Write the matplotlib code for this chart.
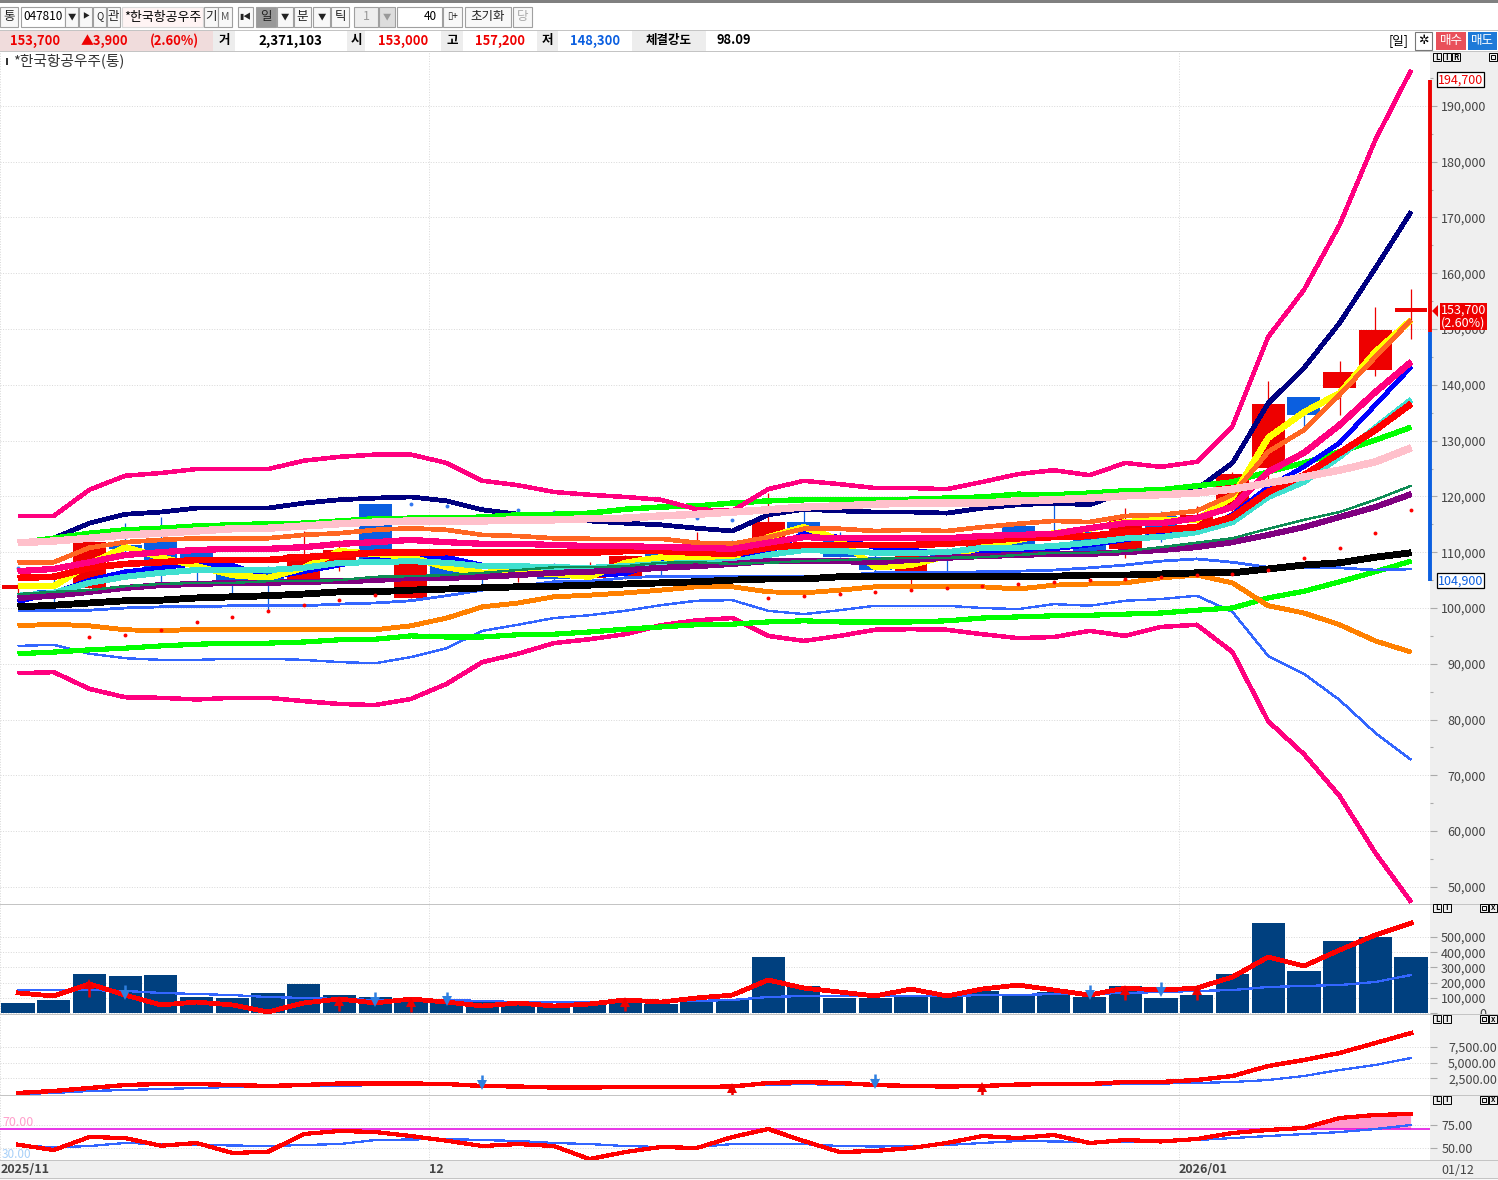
"""Daily candle chart with moving averages, bands, volume and two indicator panes."""

import matplotlib

matplotlib.use("Agg")
import matplotlib.pyplot as plt
import numpy as np
from matplotlib.patches import Polygon, Rectangle

plt.rcParams["font.family"] = ["Noto Sans CJK KR", "DejaVu Sans"]

W, H = 1498, 1180

# prices in thousand won
opens = [103.4, 103.2, 103.6, 111.3, 111.8, 109.9, 106.3, 106.5, 105.2, 107.7,
         118.6, 101.8, 107.7, 106.3, 105.9, 107.7, 105.4, 105.7, 109.7, 110.0,
         109.9, 111.3, 115.4, 112.2, 109.1, 106.5, 109.5, 110.4, 114.7, 113.6,
         113.6, 110.6, 116.5, 115.2, 117.6, 125.1, 137.8, 139.4, 142.7, 153.0]
closes = [104.1, 102.9, 111.8, 110.6, 107.2, 107.7, 104.5, 105.0, 109.7, 110.4,
          108.8, 107.9, 105.6, 105.6, 106.8, 105.2, 106.8, 109.3, 109.1, 111.3,
          109.0, 115.4, 113.4, 109.1, 106.8, 109.5, 108.6, 111.3, 110.0, 112.7,
          110.2, 116.0, 112.7, 116.7, 124.0, 136.6, 134.6, 142.3, 149.8, 153.7]
highs = [104.5, 106.3, 111.8, 115.2, 116.3, 109.9, 106.3, 107.5, 113.8, 112.2,
         118.6, 107.9, 107.7, 106.8, 106.8, 108.1, 108.2, 109.5, 109.7, 113.6,
         112.2, 120.6, 117.4, 113.6, 109.5, 109.5, 110.8, 111.3, 114.7, 118.6,
         113.6, 117.9, 117.4, 118.3, 124.4, 140.7, 137.8, 144.3, 154.0, 157.2]
lows = [102.7, 101.1, 103.6, 109.5, 104.3, 104.8, 102.7, 99.6, 105.2, 106.6,
        108.8, 101.8, 105.6, 103.8, 104.7, 104.5, 104.8, 105.2, 105.9, 110.0,
        108.6, 111.3, 113.4, 109.1, 105.9, 104.1, 105.9, 110.4, 110.0, 112.7,
        110.2, 109.0, 111.8, 115.2, 117.0, 122.9, 132.4, 134.6, 141.6, 148.3]

band_pink_up = [116.5, 116.5, 121.2, 123.7, 124.2, 124.9, 124.9, 124.9, 126.4, 127.1,
                127.5, 127.5, 126.0, 122.8, 122.0, 120.8, 120.3, 119.9, 119.4, 117.7,
                117.4, 121.3, 122.8, 122.2, 121.5, 121.5, 121.3, 122.6, 124.0, 124.7,
                123.8, 126.0, 125.3, 126.2, 132.6, 148.6, 157.0, 168.7, 183.9, 196.4]
band_navy_up = [111.7, 112.5, 115.2, 116.8, 117.2, 117.9, 117.9, 117.9, 118.8, 119.4,
                119.7, 119.9, 119.2, 117.6, 116.8, 116.3, 115.6, 115.2, 114.9, 114.3,
                113.8, 116.7, 117.7, 117.4, 117.2, 117.2, 117.0, 117.9, 118.5, 118.8,
                118.5, 120.8, 121.0, 121.3, 126.0, 136.7, 143.0, 151.1, 160.9, 171.0]
ma_green = [111.7, 112.5, 113.4, 114.0, 114.3, 114.7, 114.9, 115.1, 115.2, 115.6,
            116.0, 116.1, 116.1, 116.3, 116.7, 116.8, 117.0, 117.7, 118.1, 118.3,
            118.8, 119.2, 119.4, 119.4, 119.4, 119.5, 119.7, 119.9, 120.4, 120.3,
            120.6, 121.0, 121.2, 121.9, 122.6, 124.4, 126.0, 128.0, 130.1, 132.4]
ma_lightpink = [111.7, 112.0, 112.5, 113.1, 113.4, 113.8, 114.2, 114.3, 114.7, 115.1,
                115.4, 115.6, 115.6, 115.6, 115.8, 115.8, 116.0, 116.1, 116.5, 116.8,
                117.2, 117.6, 118.1, 118.3, 118.6, 118.8, 118.8, 118.8, 119.2, 119.4,
                119.7, 120.1, 120.3, 120.6, 121.3, 122.4, 123.5, 124.7, 126.2, 128.7]
ma_darkorange = [108.1, 108.2, 110.8, 111.8, 112.2, 112.5, 112.5, 112.5, 113.1, 113.4,
                 114.0, 114.3, 114.0, 113.1, 112.9, 112.5, 112.4, 112.4, 112.4, 111.7,
                 111.5, 112.7, 114.2, 114.2, 113.8, 114.0, 113.8, 114.5, 115.1, 115.6,
                 115.4, 116.5, 116.7, 117.4, 120.3, 128.0, 131.9, 138.2, 145.0, 151.6]
ma_deeppink = [106.6, 107.0, 108.2, 109.5, 110.0, 110.4, 110.6, 110.6, 110.9, 111.5,
               111.8, 112.2, 111.8, 111.5, 111.5, 111.3, 111.1, 111.1, 110.9, 110.8,
               110.6, 111.7, 112.7, 112.5, 112.5, 112.5, 112.5, 112.9, 113.1, 113.3,
               114.3, 115.2, 115.2, 116.1, 118.1, 124.4, 127.8, 132.8, 138.7, 144.1]
ma_red = [105.4, 105.6, 107.2, 107.9, 108.2, 108.6, 108.6, 108.6, 109.1, 109.5,
          109.9, 109.9, 110.0, 109.9, 109.9, 109.9, 109.9, 110.2, 110.2, 109.9,
          109.7, 110.8, 111.3, 111.3, 111.3, 111.3, 111.5, 112.0, 112.5, 112.7,
          112.9, 113.6, 114.0, 114.5, 116.3, 120.8, 123.8, 127.8, 131.9, 136.6]
ma_yellow = [103.9, 103.9, 107.9, 110.9, 109.1, 107.5, 105.9, 105.4, 107.2, 110.2,
             109.7, 109.1, 107.3, 106.3, 106.5, 106.1, 105.6, 108.1, 109.1, 108.8,
             109.0, 112.7, 114.5, 112.2, 107.3, 107.7, 109.3, 110.9, 112.2, 113.4,
             114.2, 115.4, 115.8, 115.8, 119.9, 130.5, 135.1, 138.5, 145.9, 151.6]
ma_blue = [101.1, 102.7, 105.0, 106.5, 107.2, 107.9, 107.7, 105.4, 106.5, 107.7,
           108.8, 109.1, 109.1, 107.7, 106.8, 106.3, 105.9, 106.1, 108.2, 108.6,
           108.8, 109.9, 113.4, 112.7, 110.8, 110.4, 109.7, 109.9, 110.2, 110.6,
           111.3, 112.2, 113.1, 114.0, 116.7, 121.7, 125.3, 129.6, 136.4, 143.2]
ma_turquoise = [102.2, 102.7, 104.5, 105.6, 106.3, 106.8, 106.8, 106.8, 107.2, 108.1,
                108.2, 108.4, 108.1, 107.5, 107.5, 107.3, 107.2, 107.5, 107.9, 108.1,
                108.2, 109.5, 110.4, 110.2, 109.9, 109.9, 110.0, 110.8, 110.8, 111.1,
                111.7, 112.5, 112.7, 113.6, 115.4, 119.9, 122.6, 127.1, 132.3, 137.3]
ma_seagreen = [102.5, 102.9, 103.2, 103.9, 104.3, 104.5, 104.5, 104.8, 104.8, 105.0,
               105.6, 105.7, 105.9, 106.3, 106.8, 107.3, 107.3, 107.5, 108.1, 108.2,
               107.9, 108.1, 108.4, 108.6, 108.8, 109.0, 109.0, 109.1, 109.5, 109.9,
               109.9, 110.2, 110.9, 111.7, 112.5, 114.2, 115.8, 117.2, 119.4, 121.9]
ma_purple = [101.8, 102.2, 102.9, 103.6, 104.1, 104.3, 104.5, 104.5, 104.7, 104.8,
             105.0, 105.4, 105.4, 105.6, 105.9, 106.3, 106.5, 106.8, 107.2, 107.5,
             107.9, 108.4, 108.4, 108.4, 108.2, 108.6, 109.0, 109.3, 109.5, 109.7,
             109.7, 110.0, 110.4, 110.9, 111.8, 113.1, 114.5, 116.3, 118.1, 120.4]
ma_black = [100.2, 100.5, 100.9, 101.3, 101.4, 101.8, 102.0, 102.2, 102.5, 102.9,
            102.9, 103.2, 103.4, 103.6, 103.8, 103.9, 104.1, 104.3, 104.5, 104.7,
            105.0, 105.2, 105.2, 105.6, 105.6, 105.6, 105.6, 105.7, 105.7, 105.7,
            105.9, 105.9, 106.1, 106.3, 106.3, 107.0, 107.7, 108.1, 109.1, 109.9]
ma_thinblue = [99.6, 99.6, 99.6, 100.0, 100.2, 100.2, 100.4, 100.4, 100.4, 100.7,
               100.9, 101.3, 102.2, 103.2, 103.9, 104.7, 104.8, 105.4, 105.7, 105.7,
               105.7, 105.6, 105.6, 105.8, 106.3, 106.3, 106.3, 106.5, 106.6, 106.8,
               107.2, 107.7, 108.4, 108.8, 108.2, 107.3, 107.3, 107.2, 106.8, 107.0]
band_orange_low = [96.8, 97.1, 96.8, 96.1, 95.9, 96.2, 96.2, 96.2, 96.2, 96.1,
                   96.1, 96.8, 98.2, 100.2, 100.9, 102.0, 102.3, 102.7, 103.2, 103.8,
                   103.8, 102.9, 102.7, 103.2, 103.8, 103.8, 103.8, 103.8, 103.4, 104.1,
                   104.3, 104.5, 105.4, 105.9, 104.5, 100.4, 99.1, 97.0, 94.1, 92.1]
ma_green_low = [91.8, 92.1, 92.5, 92.8, 93.2, 93.5, 93.7, 93.7, 93.9, 94.3,
                94.4, 95.0, 94.8, 94.8, 95.2, 95.3, 95.7, 96.2, 96.6, 97.0,
                97.1, 97.5, 97.7, 97.5, 97.5, 97.5, 97.7, 98.2, 98.4, 98.6,
                98.7, 98.9, 99.1, 99.6, 100.0, 101.8, 103.0, 104.7, 106.5, 108.4]
band_blue_low = [93.2, 93.4, 91.8, 91.0, 90.7, 90.7, 90.9, 90.9, 90.7, 90.3,
                 90.1, 91.2, 92.8, 95.9, 97.0, 98.2, 98.7, 99.5, 100.5, 101.3,
                 101.4, 99.5, 98.9, 99.6, 100.4, 100.4, 100.4, 100.0, 99.8, 100.7,
                 100.4, 101.3, 101.6, 102.2, 99.3, 91.4, 88.2, 83.5, 77.6, 72.8]
band_pink_low = [88.3, 88.5, 85.5, 84.0, 83.9, 83.6, 83.9, 83.9, 83.3, 82.8,
                 82.6, 83.7, 86.4, 90.3, 91.8, 93.7, 94.4, 95.3, 96.9, 97.8,
                 98.2, 95.0, 94.1, 95.0, 96.1, 96.2, 96.1, 95.3, 94.6, 94.8,
                 95.9, 95.0, 96.6, 97.0, 92.1, 79.7, 73.8, 66.3, 56.1, 47.3]

# parabolic-style dots: (bar index, price in thousand won)
sar_red_idx = [2, 3, 4, 5, 6, 7, 8, 9, 10, 21, 22, 23, 24, 25, 26, 27, 28, 29, 30, 31, 32, 33, 34, 35, 36, 37, 38, 39]
sar_red = [94.8, 95.2, 96.1, 97.4, 98.4, 99.5, 100.5, 101.4, 102.3, 101.8, 102.2, 102.5, 102.9, 103.2, 103.6, 103.9,
           104.3, 104.7, 105.0, 105.2, 105.6, 105.9, 106.1, 106.8, 109.0, 110.8, 113.4, 117.6]
sar_blue_idx = [0, 11, 12, 13, 14, 15, 16, 17, 19, 20]
sar_blue = [107.2, 118.6, 118.3, 117.9, 117.6, 117.2, 116.8, 116.5, 116.1, 115.8]

# volume in thousand shares
volume = [66, 85, 256, 243, 250, 105, 100, 131, 190, 118,
          105, 92, 81, 74, 68, 59, 64, 78, 60, 72,
          90, 368, 178, 98, 98, 105, 112, 145, 118, 138,
          105, 178, 98, 118, 256, 592, 276, 474, 500, 368]
vol_red = [132, 112, 191, 118, 53, 72, 53, 7, 66, 92,
           66, 92, 72, 46, 66, 46, 59, 86, 72, 99,
           118, 217, 164, 138, 112, 158, 112, 158, 184, 151,
           118, 164, 151, 164, 237, 368, 309, 414, 513, 592]
vol_blue = [151, 151, 151, 145, 132, 125, 118, 105, 99, 92,
            86, 86, 86, 79, 72, 72, 72, 72, 79, 79,
            86, 105, 112, 112, 112, 112, 112, 118, 118, 125,
            125, 132, 138, 145, 151, 171, 178, 184, 204, 250]
vol_up_idx = [2, 9, 11, 17, 31, 33]
vol_up_base = [105, 15, 8, 13, 86, 86]
vol_up_tip = [190, 79, 72, 72, 151, 151]
vol_down_idx = [3, 10, 12, 30, 32]
vol_down_base = [184, 138, 138, 184, 204]
vol_down_tip = [118, 74, 79, 118, 138]

# third pane
osc_red = [159, 478, 955, 1433, 1592, 1592, 1433, 1274, 1433, 1672,
           1672, 1672, 1592, 1274, 1194, 1035, 1035, 1114, 1114, 1114,
           1194, 1751, 1910, 1751, 1433, 1274, 1194, 1274, 1512, 1592,
           1592, 1910, 1910, 2229, 2866, 4458, 5413, 6527, 8119, 9711]
osc_blue = [0, 159, 478, 637, 796, 955, 1114, 1114, 1274, 1274,
            1433, 1433, 1433, 1274, 1274, 1274, 1274, 1274, 1274, 1274,
            1274, 1433, 1592, 1433, 1353, 1274, 1274, 1274, 1353, 1433,
            1433, 1592, 1672, 1751, 1910, 2229, 2866, 3821, 4617, 5731]
osc_up_idx = [20, 27]
osc_up_base = [-160, -160]
osc_up_tip = [955, 1114]
osc_down_idx = [13, 24]
osc_down_base = [3025, 3184]
osc_down_tip = [1433, 1592]

# bottom pane
rsi_red = [53.8, 48.2, 61.9, 60.8, 52.7, 55.6, 45.1, 46.4, 65.1, 68.2,
           67.2, 62.9, 58.0, 52.4, 54.5, 52.4, 38.7, 46.1, 51.4, 50.3,
           61.9, 70.3, 57.7, 46.1, 47.2, 50.3, 55.6, 62.9, 60.8, 64.0,
           55.6, 58.7, 57.2, 59.8, 66.1, 69.3, 71.4, 81.9, 85.1, 86.1]
rsi_blue = [53.5, 50.9, 52.4, 55.6, 54.5, 53.5, 53.0, 52.4, 53.5, 54.5,
            58.7, 59.3, 59.8, 58.7, 57.7, 55.6, 54.5, 52.4, 51.4, 51.4,
            54.5, 54.5, 54.5, 52.4, 51.9, 52.4, 53.5, 55.6, 57.7, 57.2,
            56.6, 56.6, 56.6, 58.7, 60.8, 62.9, 65.0, 67.1, 70.3, 74.5]

month_ticks = [-0.5, 11.5, 32.5]
month_labels = ["2025/11", "12", "2026/01"]

price_ticks = list(range(50000, 200000, 10000))
vol_ticks = [0, 100000, 200000, 300000, 400000, 500000]
osc_ticks = [2500, 5000, 7500]
rsi_ticks = [50, 75]

range_high, range_split, range_low = 194700, 149500, 104900
last_price = 153700

RED = "#EE0000"
CANDLE_BLUE = "#0B5FE0"
LINE_BLUE = "#3366FF"
PINK = "#FF007F"
GREY_TXT = "#444444"

fig = plt.figure(figsize=(W / 100, H / 100), dpi=100, facecolor="white")


def box(x0, y0, x1, y1, fc="white", ec="none", z=5, lw=0.8):
    fig.add_artist(Rectangle((x0 / W, 1 - y1 / H), (x1 - x0) / W, (y1 - y0) / H, transform=fig.transFigure,
                             facecolor=fc, edgecolor=ec, linewidth=lw, zorder=z))


def label(x, y, s, color="black", size=9, ha="center", weight="normal", z=6):
    fig.text(x / W, 1 - y / H, s, color=color, fontsize=size, ha=ha, va="center", fontweight=weight, zorder=z)


def button(x0, x1, s="", fc="#F8F8F8", color="#222222", y0=7, y1=27, size=9):
    box(x0, y0, x1, y1, fc=fc, ec="#A0A0A0")
    if s:
        label((x0 + x1) / 2, (y0 + y1) / 2 - 0.5, s, color=color, size=size)


def pane(top, bottom, ylim, ticks, fmt, label_right, grid=True):
    ax = fig.add_axes([0, 1 - bottom / H, 1430 / W, (bottom - top) / H])
    ax.set_xlim(-0.504, 39.53)
    ax.set_ylim(*ylim)
    for s in ax.spines.values():
        s.set_visible(False)
    ax.yaxis.tick_right()
    ax.set_yticks(ticks)
    ax.set_yticklabels([fmt(t) for t in ticks], color=GREY_TXT, fontsize=9, ha="right")
    ax.tick_params(axis="y", which="major", length=5, width=0.8, color="#AAAAAA", pad=(label_right - 1437) * 0.72)
    ax.set_xticks(month_ticks)
    ax.set_xticklabels([])
    ax.tick_params(axis="x", length=0)
    ax.grid(True, axis="x", linestyle=":", linewidth=0.7, color="#D8D8D8")
    if grid:
        ax.grid(True, axis="y", linestyle=":", linewidth=0.7, color="#D8D8D8")
    ax.set_axisbelow(True)
    ax.set_zorder(2)
    return ax


def arrows(ax, idx, base, tip, color):
    ax.vlines(idx, base, tip, color=color, linewidth=1.8, zorder=6, clip_on=False)
    ax.plot(idx, tip, linestyle="none", marker="^" if color == RED else "v", color=color, markersize=6.5, zorder=6,
            markeredgewidth=0, clip_on=False)


x = np.arange(40)

# chrome that sits behind the panes
box(0, 0, W, 3, fc="#808080", z=-1)
box(1430, 52, W, 1160, fc="#EFEFEF", z=-1)
box(0, 1160, W, 1178, fc="#EFEFEF", z=-1)
box(0, 1178, W, H, fc="#F8F8F8", z=-1)

# price pane
main = pane(52, 904, (46940, 199660), price_ticks, lambda v: f"{v:,}", 1486)
main.set_yticks(range(50000, 200000, 5000), minor=True)
main.tick_params(axis="y", which="minor", length=2, width=0.8, color="#AAAAAA")

o, c = np.array(opens) * 1000, np.array(closes) * 1000
up = c >= o
candle_colors = [RED if u else CANDLE_BLUE for u in up]
main.vlines(x, np.array(lows) * 1000, np.array(highs) * 1000, color=candle_colors, linewidth=0.9, zorder=2)
main.bar(x, np.maximum(np.abs(c - o), 150), bottom=np.minimum(o, c), width=0.92, color=candle_colors, zorder=2,
         antialiased=False)

price_lines = [
    (band_blue_low, LINE_BLUE, 1.0),
    (band_pink_low, PINK, 2.5),
    (ma_green_low, "#00FF00", 3.0),
    (band_orange_low, "#FF8000", 2.8),
    (ma_thinblue, LINE_BLUE, 1.3),
    (band_navy_up, "#000080", 2.7),
    (ma_green, "#00FF00", 3.2),
    (band_pink_up, PINK, 2.5),
    (ma_blue, "#0000FF", 2.6),
    (ma_yellow, "#FFFF00", 3.8),
    (ma_turquoise, "#40E0D0", 3.6),
    (ma_darkorange, "#FF6622", 2.6),
    (ma_red, "#FF0000", 4.0),
    (ma_deeppink, PINK, 3.8),
    (ma_purple, "#800080", 3.6),
    (ma_seagreen, "#0E8C55", 1.0),
    (ma_black, "#000000", 4.2),
    (ma_lightpink, "#FFC0CB", 4.6),
]
for values, color, lw in price_lines:
    main.plot(x, np.array(values) * 1000, color=color, linewidth=lw, zorder=3, antialiased=False,
              solid_capstyle="butt", solid_joinstyle="round")

main.plot(sar_red_idx, np.array(sar_red) * 1000, linestyle="none", marker="o", color="#FF0000", markersize=2.8, zorder=4,
          markeredgewidth=0)
main.plot(sar_blue_idx, np.array(sar_blue) * 1000, linestyle="none", marker="o", color="#3377EE", markersize=2.8,
          zorder=2.5, markeredgewidth=0)

# high / low range bar on the axis edge
trans = main.get_yaxis_transform()
main.vlines(0.9997, range_split, range_high, color=RED, linewidth=2.8, transform=trans, clip_on=False, zorder=5)
main.vlines(0.9997, range_low, range_split, color=CANDLE_BLUE, linewidth=2.8, transform=trans, clip_on=False, zorder=5)
main.text(1.0052, range_high, "194,700", color=RED, fontsize=9, va="center", transform=trans, zorder=7,
          bbox=dict(facecolor="white", edgecolor="black", linewidth=0.9, pad=0.6))
main.text(1.0052, range_low, "104,900", color="#0B5FE0", fontsize=9, va="center", transform=trans, zorder=7,
          bbox=dict(facecolor="white", edgecolor="black", linewidth=0.9, pad=0.6))
main.annotate("153,700\n(2.60%)", xy=(1.0075, last_price), xycoords=trans, xytext=(0, -8), textcoords="offset pixels",
              color="white", fontsize=9, va="center", linespacing=0.95, zorder=8, annotation_clip=False,
              bbox=dict(facecolor=RED, edgecolor="none", pad=0.8))
fig.add_artist(Polygon([(1432 / W, 1 - 311 / H), (1438 / W, 1 - 305 / H), (1438 / W, 1 - 317 / H)],
                       transform=fig.transFigure, facecolor=RED, edgecolor="none", zorder=7))

# volume pane
vol_ax = pane(905, 1014, (-6600, 710500), vol_ticks, lambda v: f"{v:,}", 1486)
vol_ax.bar(x, np.array(volume) * 1000, width=0.93, color="#00407F", zorder=2, antialiased=False)
vol_ax.plot(x, np.array(vol_blue) * 1000, color=LINE_BLUE, linewidth=0.9, zorder=3, antialiased=False)
vol_ax.plot(x, np.array(vol_red) * 1000, color="#FF0000", linewidth=2.7, zorder=4, antialiased=False)
arrows(vol_ax, vol_up_idx, np.array(vol_up_base) * 1000, np.array(vol_up_tip) * 1000, RED)
arrows(vol_ax, vol_down_idx, np.array(vol_down_base) * 1000, np.array(vol_down_tip) * 1000, "#2E7FE0")

# oscillator pane
osc_ax = pane(1015, 1095, (-159, 12577), osc_ticks, lambda v: f"{v:,.2f}", 1497)
osc_ax.plot(x, osc_blue, color=LINE_BLUE, linewidth=0.9, zorder=3, antialiased=False)
osc_ax.plot(x, osc_red, color="#FF0000", linewidth=2.4, zorder=4, antialiased=False)
arrows(osc_ax, osc_up_idx, osc_up_base, osc_up_tip, RED)
arrows(osc_ax, osc_down_idx, osc_down_base, osc_down_tip, "#2E7FE0")

# RSI pane
rsi_ax = pane(1096, 1160, (37.7, 105.05), rsi_ticks, lambda v: f"{v:.2f}", 1473)
rsi = np.array(rsi_red)
rsi_ax.fill_between(x, 70, rsi, where=rsi >= 70, interpolate=True, color="#FF99CC", linewidth=0, zorder=2)
rsi_ax.axhline(70, color="#E000E0", linewidth=1.1, zorder=3)
rsi_ax.plot(x, rsi_blue, color=LINE_BLUE, linewidth=0.9, zorder=3, antialiased=False)
rsi_ax.plot(x, rsi, color="#FF0000", linewidth=2.3, zorder=4, antialiased=False)
rsi_ax.set_xticklabels(month_labels, color=GREY_TXT, fontsize=9, ha="left", fontweight="bold")
rsi_ax.tick_params(axis="x", pad=2.5)
label(2, 1122, "70.00", color="#FFA0CC", ha="left")
label(2, 1155, "30.00", color="#A8D0F8", ha="left", size=8.5)
label(1458, 1170, "01/12", color=GREY_TXT)

# pane separators
for y in (51, 904, 1014, 1095, 1160, 1178):
    box(0, y, W, y + 1.2, fc="#C4C4C4", z=4)

# pane corner buttons
for y in (908, 1019, 1100):
    for bx, s in ((1433, "L"), (1443, "I")):
        box(bx, y - 4, bx + 8, y + 4, fc="#EFEFEF", ec="black", lw=0.7)
        label(bx + 4, y, s, size=5.5, weight="bold")
    box(1480, y - 4, 1488, y + 4, fc="#EFEFEF", ec="black", lw=0.7)
    box(1482, y - 2, 1486, y + 2, fc="#EFEFEF", ec="black", lw=0.7)
    box(1489, y - 4, 1497, y + 4, fc="#EFEFEF", ec="black", lw=0.7)
    label(1493, y, "X", size=5, weight="bold")
for bx, s in ((1433, "L"), (1443, "I"), (1452, "R")):
    box(bx, 53, bx + 8, 61, fc="#EFEFEF", ec="black", lw=0.7)
    label(bx + 4, 57, s, size=5.5, weight="bold")
box(1489, 53, 1497, 61, fc="#EFEFEF", ec="black", lw=0.7)
box(1491, 55, 1495, 59, fc="#EFEFEF", ec="black", lw=0.7)

# toolbar
button(0, 18, "통")
box(21, 7, 65, 27, fc="white", ec="#A0A0A0")
label(43, 17, "047810", size=8.5)
button(65, 78, "▼", size=6)
button(79, 92, "▶", size=5)
button(93, 106, "Q", size=7)
button(107, 120, "관")
box(122, 7, 203, 27, fc="#FFF4F4", ec="#D8D8D8")
label(163, 17, "*한국항공우주", size=9.3)
button(204, 218, "기")
button(218, 232, "M", size=7.5, color="#555555")
button(238, 253, "▮◀", size=5.5)
button(256, 276, "일", fc="#999999")
button(277, 293, "▼", size=6)
button(294, 311, "분")
button(313, 330, "▼", size=6)
button(331, 349, "틱")
button(354, 378, "1", fc="#EEEEEE", color="#999999")
button(379, 395, "▼", fc="#DDDDDD", color="#999999", size=6)
box(397, 7, 442, 27, fc="white", ec="#A0A0A0")
label(437, 17, "40", size=8.5, ha="right")
button(443, 462, "▯+", size=7)
button(465, 511, "초기화")
button(513, 532, "당", color="#AAAAAA")
box(0, 30, W, 31, fc="#C4C4C4")

# quote row
box(0, 31, 213, 51, fc="#F0DCDC", z=4)
for x0, x1, s in ((213, 235, "거"), (347, 365, "시"), (441, 463, "고"), (537, 558, "저"), (632, 706, "체결강도")):
    box(x0, 31, x1, 51, fc="#EDEDED", z=4)
    label((x0 + x1) / 2, 40.5, s, weight="bold", size=9)
label(35, 40.5, "153,700", color=RED, weight="bold", size=9.3)
label(104, 40.5, "▲3,900", color=RED, weight="bold", size=9.3)
label(174, 40.5, "(2.60%)", color=RED, weight="bold", size=9.3)
label(290, 40.5, "2,371,103", weight="bold", size=9.6)
label(403, 40.5, "153,000", color=RED, weight="bold", size=9.3)
label(500, 40.5, "157,200", color=RED, weight="bold", size=9.3)
label(595, 40.5, "148,300", color="#0B5FE0", weight="bold", size=9.3)
label(734, 40.5, "98.09", weight="bold", size=9.3)
label(1399, 40.5, "[일]")
box(1415, 32, 1432, 50, fc="white", ec="#777777")
label(1423.5, 40.5, "✲", size=9)
box(1436, 32, 1466, 50, fc="#E9505A", z=4)
label(1451, 40.5, "매수", color="white")
box(1468, 32, 1497, 50, fc="#1E7AD8", z=4)
label(1482.5, 40.5, "매도", color="white")

# instrument title
box(6, 58, 8, 65, fc="#333333")
label(13, 61, "*한국항공우주(통)", color="#333333", ha="left", size=10.6)

fig.savefig("out.png", dpi=100, facecolor="white")
